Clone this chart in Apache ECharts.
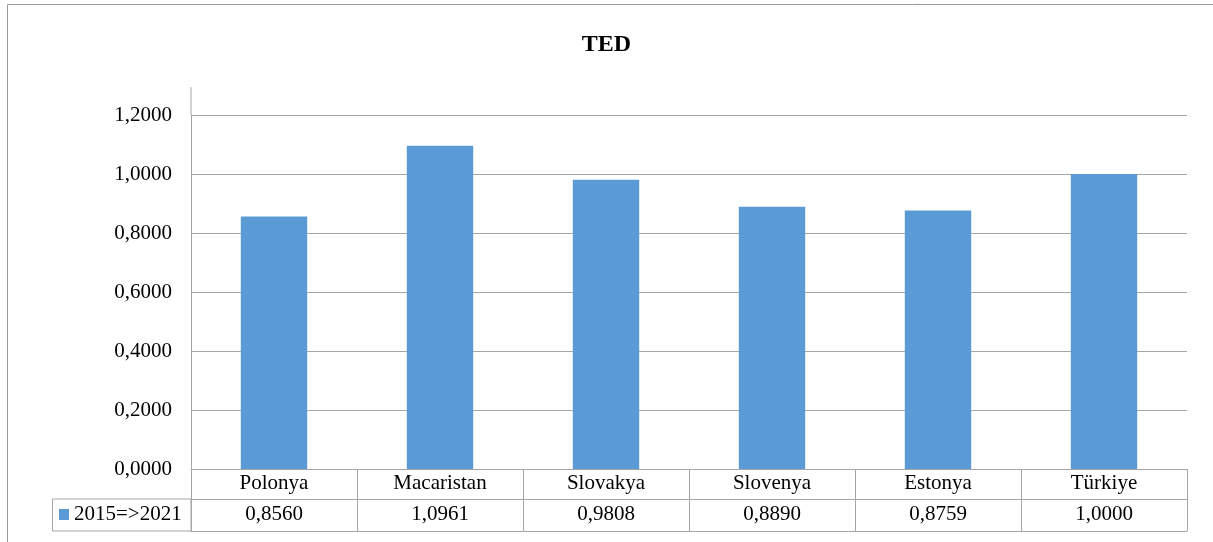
<!DOCTYPE html>
<html>
<head>
	<meta charset="utf-8">
	<title>TED</title>
	<script src="https://cdn.jsdelivr.net/npm/echarts@6/dist/echarts.min.js"></script>
	<style>
		html, body { margin: 0; padding: 0; background: #fff; }
		#echarts { width: 1213px; height: 542px; }
	</style>
</head>
<body>
	<div id="echarts"></div>
	<script>
	var categories = ['Polonya', 'Macaristan', 'Slovakya', 'Slovenya', 'Estonya', 'Türkiye'];
	var values = [0.8560, 1.0961, 0.9808, 0.8890, 0.8759, 1.0000];
	var seriesName = '2015=>2021';

	var fmt = function (v) { return Number(v).toFixed(4).replace('.', ','); };
	var gray = '#A6A6A6';
	var font = '"Liberation Serif", "Times New Roman", serif';

	var myChart = echarts.init(document.getElementById('echarts'));
	var option = {
		animation: false,
		textStyle: { fontFamily: font },
		title: {
			text: 'TED',
			left: 'center',
			top: 28,
			textStyle: { fontFamily: font, fontSize: 24, fontWeight: 'bold', color: '#000' }
		},
		legend: {
			left: 59,
			top: 504,
			padding: 0,
			itemWidth: 10,
			itemHeight: 11,
			itemGap: 5,
			icon: 'rect',
			textStyle: { fontFamily: font, fontSize: 21, color: '#000' },
			data: [seriesName]
		},
		grid: { left: 191, right: 26, top: 115, bottom: 73 },
		xAxis: [
			{
				type: 'category',
				data: categories,
				axisLine: { lineStyle: { color: gray } },
				axisTick: { show: true, length: 62, lineStyle: { color: gray } },
				axisLabel: { fontFamily: font, fontSize: 21, color: '#000', margin: 4 }
			},
			{
				type: 'category',
				position: 'bottom',
				offset: 30,
				data: values.map(fmt),
				axisLine: { show: true, lineStyle: { color: gray } },
				axisTick: { show: false },
				axisLabel: { fontFamily: font, fontSize: 21, color: '#000', margin: 5 }
			},
			{
				type: 'category',
				position: 'bottom',
				offset: 62,
				data: categories,
				axisLine: { show: true, lineStyle: { color: gray } },
				axisTick: { show: false },
				axisLabel: { show: false }
			}
		],
		yAxis: {
			type: 'value',
			min: 0,
			max: 1.2,
			interval: 0.2,
			axisLine: { show: true, lineStyle: { color: gray } },
			axisTick: { show: false },
			splitLine: { lineStyle: { color: gray } },
			axisLabel: { formatter: fmt, fontFamily: font, fontSize: 21, color: '#000', margin: 19 }
		},
		series: [{
			name: seriesName,
			type: 'bar',
			barWidth: '40%',
			itemStyle: { color: '#5B9BD5' },
			data: values
		}],
		graphic: [
			{ type: 'rect', shape: { x: 7.5, y: 4.5, width: 1230, height: 600 }, style: { fill: 'none', stroke: '#9a9a9a', lineWidth: 1 }, silent: true },
			{ type: 'line', shape: { x1: 191, y1: 87, x2: 191, y2: 115 }, style: { stroke: gray, lineWidth: 1 }, silent: true },
			{ type: 'rect', shape: { x: 52.5, y: 499, width: 138.5, height: 32 }, style: { fill: 'none', stroke: gray, lineWidth: 1 }, silent: true }
		]
	};
	myChart.setOption(option);
	</script>
</body>
</html>
